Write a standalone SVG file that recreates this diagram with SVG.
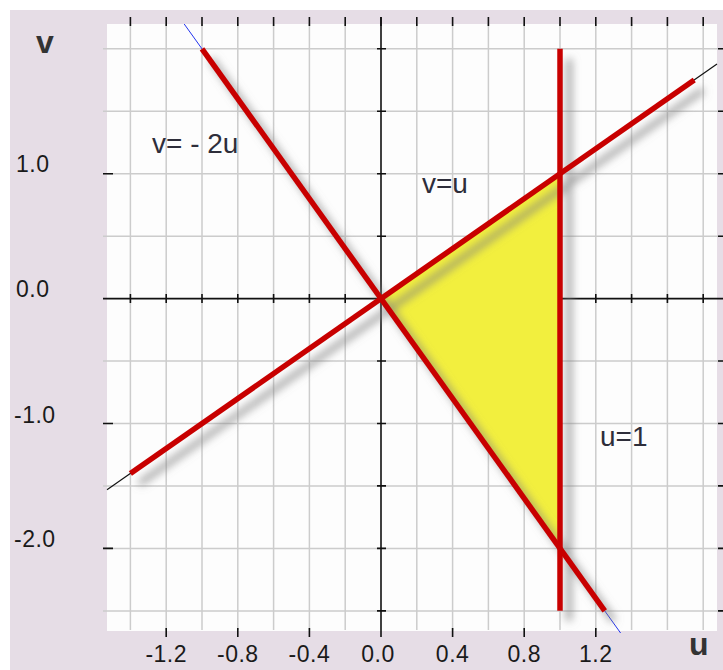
<svg xmlns="http://www.w3.org/2000/svg" width="723" height="670" viewBox="0 0 723 670">
  <defs>
    <filter id="shadow" x="-20%" y="-20%" width="140%" height="140%">
      <feGaussianBlur in="SourceAlpha" stdDeviation="4" result="b"/>
      <feOffset in="b" dx="9" dy="10" result="o"/>
      <feFlood flood-color="#808080" flood-opacity="0.8"/>
      <feComposite in2="o" operator="in"/>
    </filter>
  </defs>
  <style>
    .grid { stroke: #cccccc; stroke-width: 1.5; fill: none; }
    .tick { stroke: #111111; stroke-width: 1.6; fill: none; }
    .axis { stroke: #111111; stroke-width: 1.6; fill: none; }
    .red { stroke: #c80000; stroke-width: 5.5; fill: none; stroke-linecap: butt; }
    .num { font-family: "Liberation Sans", Arial, sans-serif; font-size: 23px; fill: #1a1a1a; letter-spacing: 0.5px; }
    .eq { font-family: "Liberation Sans", Arial, sans-serif; font-size: 28px; fill: #2e2e3a; }
    .axlab { font-family: "Liberation Sans", Arial, sans-serif; font-size: 32px; font-weight: bold; fill: #333333; }
  </style>

  <rect x="0" y="0" width="723" height="670" fill="#ffffff"/>
  <rect x="10" y="10" width="713" height="660" fill="#e6dde6"/>
  <rect x="107" y="24" width="610" height="607" fill="#fdfdfd"/>

  <g id="grid">
    <path class="grid" d="M130.4 24V630 M166.2 24V630 M202 24V630 M237.8 24V630 M273.6 24V630 M309.4 24V630 M345.2 24V630 M416.8 24V630 M452.6 24V630 M488.4 24V630 M524.2 24V630 M560 24V630 M595.8 24V630 M631.6 24V630 M667.4 24V630 M703.2 24V630"/>
    <path class="grid" d="M103 48.8H723 M103 111.3H723 M103 173.7H723 M103 236.2H723 M103 361H723 M103 423.5H723 M103 485.9H723 M103 548.4H723 M103 610.9H723"/>
  </g>

  <g id="ticks">
    <path class="tick" d="M130.4 17V26 M166.2 17V26 M202 17V26 M237.8 17V26 M273.6 17V26 M309.4 17V26 M345.2 17V26 M381 17V26 M416.8 17V26 M452.6 17V26 M488.4 17V26 M524.2 17V26 M560 17V26 M595.8 17V26 M631.6 17V26 M667.4 17V26 M703.2 17V26"/>
    <path class="tick" d="M166.2 628V637 M237.8 628V637 M309.4 628V637 M452.6 628V637 M524.2 628V637 M595.8 628V637"/>
    <path class="tick" d="M103 173.7H113 M103 423.5H113 M103 548.4H113"/>
    <path class="tick" stroke-width="1.2" d="M718 48.8H723 M718 111.3H723 M718 173.7H723 M718 236.2H723 M718 361H723 M718 423.5H723 M718 485.9H723 M718 548.4H723 M718 610.9H723"/>
    <path class="tick" d="M130.4 294V303 M166.2 294V303 M202 294V303 M237.8 294V303 M273.6 294V303 M309.4 294V303 M345.2 294V303 M416.8 294V303 M452.6 294V303 M488.4 294V303 M524.2 294V303 M560 294V303 M595.8 294V303 M631.6 294V303 M667.4 294V303 M703.2 294V303"/>
    <path class="tick" d="M377 48.8H386 M377 111.3H386 M377 173.7H386 M377 236.2H386 M377 361H386 M377 423.5H386 M377 485.9H386 M377 548.4H386 M377 610.9H386"/>
  </g>

  <g id="axes">
    <line class="axis" x1="103" y1="298.6" x2="723" y2="298.6"/>
    <line class="axis" x1="381" y1="17" x2="381" y2="637"/>
  </g>

  <g id="region">
    <polygon points="381,298.6 560,173.7 560,548.4" fill="#f2ef3e"/>
  </g>

  <g id="connectors">
    <line x1="184.2" y1="24" x2="620.6" y2="633" stroke="#2233ee" stroke-width="1"/>
    <line x1="107" y1="489.8" x2="717" y2="64.1" stroke="#111111" stroke-width="1.2"/>
    <g filter="url(#shadow)">
      <line class="red" x1="202" y1="48.8" x2="604.75" y2="610.85"/>
      <line class="red" x1="130.4" y1="473.5" x2="694.25" y2="80"/>
      <line class="red" x1="560" y1="48.8" x2="560" y2="610.85"/>
    </g>
    <g id="line-v-neg2u"><line class="red" x1="202" y1="48.8" x2="604.75" y2="610.85"/></g>
    <g id="line-v-u"><line class="red" x1="130.4" y1="473.5" x2="694.25" y2="80"/></g>
    <g id="line-u-1"><line class="red" x1="560" y1="48.8" x2="560" y2="610.85"/></g>
  </g>

  <g id="labels">
    <text class="axlab" x="36" y="53">v</text>
    <text class="axlab" x="689" y="655">u</text>
    <text class="eq" x="152" y="153">v= - 2u</text>
    <text class="eq" x="422" y="193">v=u</text>
    <text class="eq" x="600" y="446">u=1</text>
    <g id="vlabels">
      <text class="num" x="16" y="172">1.0</text>
      <text class="num" x="16" y="297">0.0</text>
      <text class="num" x="14" y="423">-1.0</text>
      <text class="num" x="14" y="547">-2.0</text>
    </g>
    <g id="ulabels" text-anchor="middle">
      <text class="num" x="166.2" y="662">-1.2</text>
      <text class="num" x="237.8" y="662">-0.8</text>
      <text class="num" x="309.4" y="662">-0.4</text>
      <text class="num" x="378" y="662">0.0</text>
      <text class="num" x="452.6" y="662">0.4</text>
      <text class="num" x="524.2" y="662">0.8</text>
      <text class="num" x="595.8" y="662">1.2</text>
    </g>
  </g>
</svg>
